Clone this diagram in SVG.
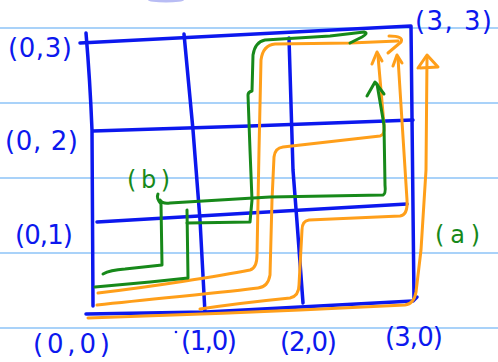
<svg xmlns="http://www.w3.org/2000/svg" width="498" height="362" viewBox="0 0 498 362">
<style>
.rule{stroke:#a9d2f9;stroke-width:2;fill:none}
.blue{stroke:#0c18ee;stroke-width:3.5;fill:none;stroke-linecap:round;stroke-linejoin:round}
.org{stroke:#ff9f1a;stroke-width:3;fill:none;stroke-linecap:round;stroke-linejoin:round}
.grn{stroke:#17891a;stroke-width:3;fill:none;stroke-linecap:round;stroke-linejoin:round}
.lb{font-family:"DejaVu Sans","Liberation Sans",sans-serif;font-size:26px;fill:#0c18ee}
.lg{font-family:"DejaVu Sans","Liberation Sans",sans-serif;font-size:24px;fill:#17891a}
</style>
<rect width="498" height="362" fill="#ffffff"/>
<g id="paper">
<ellipse cx="166" cy="0" rx="18" ry="2.5" fill="#b8bcf4"/>
<line class="rule" x1="0" y1="28" x2="498" y2="28"/>
<line class="rule" x1="0" y1="103" x2="498" y2="103"/>
<line class="rule" x1="0" y1="178" x2="498" y2="178"/>
<line class="rule" x1="0" y1="253" x2="498" y2="253"/>
<line class="rule" x1="0" y1="328" x2="498" y2="328"/>
</g>
<g id="grid">
<path class="blue" d="M80,43 L411,26 L414,300 L417,297"/>
<path class="blue" d="M86,33 Q90,80 92,130 L93,306"/>
<path class="blue" d="M86,314 L206,312 L413,301"/>
<path class="blue" d="M184,34 L193,130 L200,220 L205,313"/>
<path class="blue" d="M289,38 L293,170 L297,222 L303,303"/>
<path class="blue" d="M93,131 L250,126 L413,120"/>
<path class="blue" d="M97,222 L250,213 L407,204"/>
</g>
<g id="connectors">
<path class="org" d="M98,293 C150,287 220,276 250,270 Q257,268 257,255 L259,150 L261,60 Q263,45 275,44 L350,43 L398,41"/>
<path class="org" d="M389,36 Q404,36 401,42 L388,53"/>
<path class="org" d="M97,305 C160,298 230,292 258,288 Q268,287 270,275 L272,200 L274,157 Q275,148 283,147 L380,136 Q385,135 384,125 L378,56"/>
<path class="org" d="M372,64 L377,52 L382,61"/>
<path class="org" d="M200,309 C240,303 270,300 290,298 Q299,296 299,285 L302,230 Q302,221 309,220 L400,216 Q408,215 407,200 L398,58"/>
<path class="org" d="M393,66 L397,55 L402,63"/>
<path class="org" d="M88,318 C150,316 230,313 300,310 L405,305 Q414,304 416,292 L421,250 L426,170 L427,58"/>
<path class="org" d="M418,68 L427,55 L438,67 L420,68"/>
<path class="grn" d="M95,287 L150,282 L188,278 L187,210"/>
<path class="grn" d="M187,223 L250,222 L252,200 L250,150 L248,95 Q248,92 252,91 L253,55 Q255,42 265,40 L330,36 L364,32 Q369,33 362,37 L350,43"/>
<path class="grn" d="M103,274 Q110,270 125,269 L162,265 L161,204 Q156,198 158,194 M160,200 Q162,204 170,203 L270,197 L383,195 Q386,194 385,185 L384,125 L377,84"/>
<path class="grn" d="M367,96 L375,82 L384,94"/>
</g>
<g id="labels">
<text class="lb" x="8" y="57" textLength="64" lengthAdjust="spacing">(0,3)</text>
<text class="lb" x="5" y="150" textLength="73" lengthAdjust="spacing">(0, 2)</text>
<text class="lb" x="15" y="244" textLength="58" lengthAdjust="spacing">(0,1)</text>
<text class="lb" x="33" y="353" textLength="77" lengthAdjust="spacing">(0,0)</text>
<circle cx="176" cy="332" r="1.3" fill="#0c18ee"/>
<text class="lb" x="181" y="350" textLength="56" lengthAdjust="spacing">(1,0)</text>
<text class="lb" x="280" y="351" textLength="57" lengthAdjust="spacing">(2,0)</text>
<text class="lb" x="385" y="346" textLength="58" lengthAdjust="spacing">(3,0)</text>
<text class="lb" x="415" y="30" textLength="77" lengthAdjust="spacing">(3, 3)</text>
<text class="lg" x="127" y="188" textLength="43" lengthAdjust="spacing">(b)</text>
<text class="lg" x="435" y="243" textLength="45" lengthAdjust="spacing">(a)</text>
</g>
</svg>
